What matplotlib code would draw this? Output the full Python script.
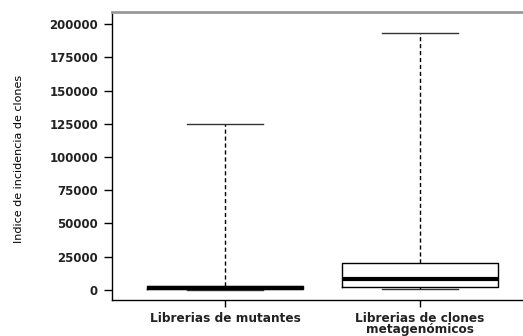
import matplotlib
matplotlib.use("Agg")
import matplotlib.pyplot as plt

categories = ["Librerias de mutantes", "Librerias de clones\nmetagenómicos"]
whislo = [0, 800]
q1 = [800, 2200]
med = [1800, 8300]
q3 = [3200, 20500]
whishi = [125000, 193000]
yticks = [0, 25000, 50000, 75000, 100000, 125000, 150000, 175000, 200000]

stats = []
for i, c in enumerate(categories):
    stats.append(dict(label=c, whislo=whislo[i], q1=q1[i], med=med[i],
                      q3=q3[i], whishi=whishi[i], fliers=[]))

fig = plt.figure(figsize=(5.23, 3.36), dpi=100)
ax = fig.add_axes([112/523, 36/336, 1 - 112/523, (300-12)/336])

ax.bxp(stats, positions=[1, 2], widths=0.8, showfliers=False,
       boxprops=dict(color="black", linewidth=1.0),
       medianprops=dict(color="black", linewidth=3.0, solid_capstyle="butt"),
       whiskerprops=dict(color="black", linewidth=1.0, linestyle=(0, (3, 2))),
       capprops=dict(color="#333333", linewidth=1.0),
       capwidths=0.39)

ax.set_xlim(0.42, 2.53)
ax.set_ylim(-7519, 209023)
ax.set_yticks(yticks)
ax.set_yticklabels([str(v) for v in yticks], fontsize=8.5, fontweight="bold", color="#222222")
ax.set_xticks([1, 2])
ax.set_xticklabels(categories, fontsize=8.7, fontweight="bold", color="#222222", linespacing=0.8)
ax.tick_params(axis="y", length=6, width=1, pad=4)
ax.tick_params(axis="x", length=5, width=1, pad=4)
ax.set_ylabel("Indice de incidencia de clones", fontsize=8)
ax.yaxis.set_label_coords(-0.215, 0.49)

ax.spines["right"].set_visible(False)
ax.spines["top"].set_color("#999999")
ax.spines["top"].set_linewidth(2)
ax.spines["left"].set_linewidth(1)
ax.spines["bottom"].set_linewidth(1)

fig.savefig("out.png", dpi=100)
